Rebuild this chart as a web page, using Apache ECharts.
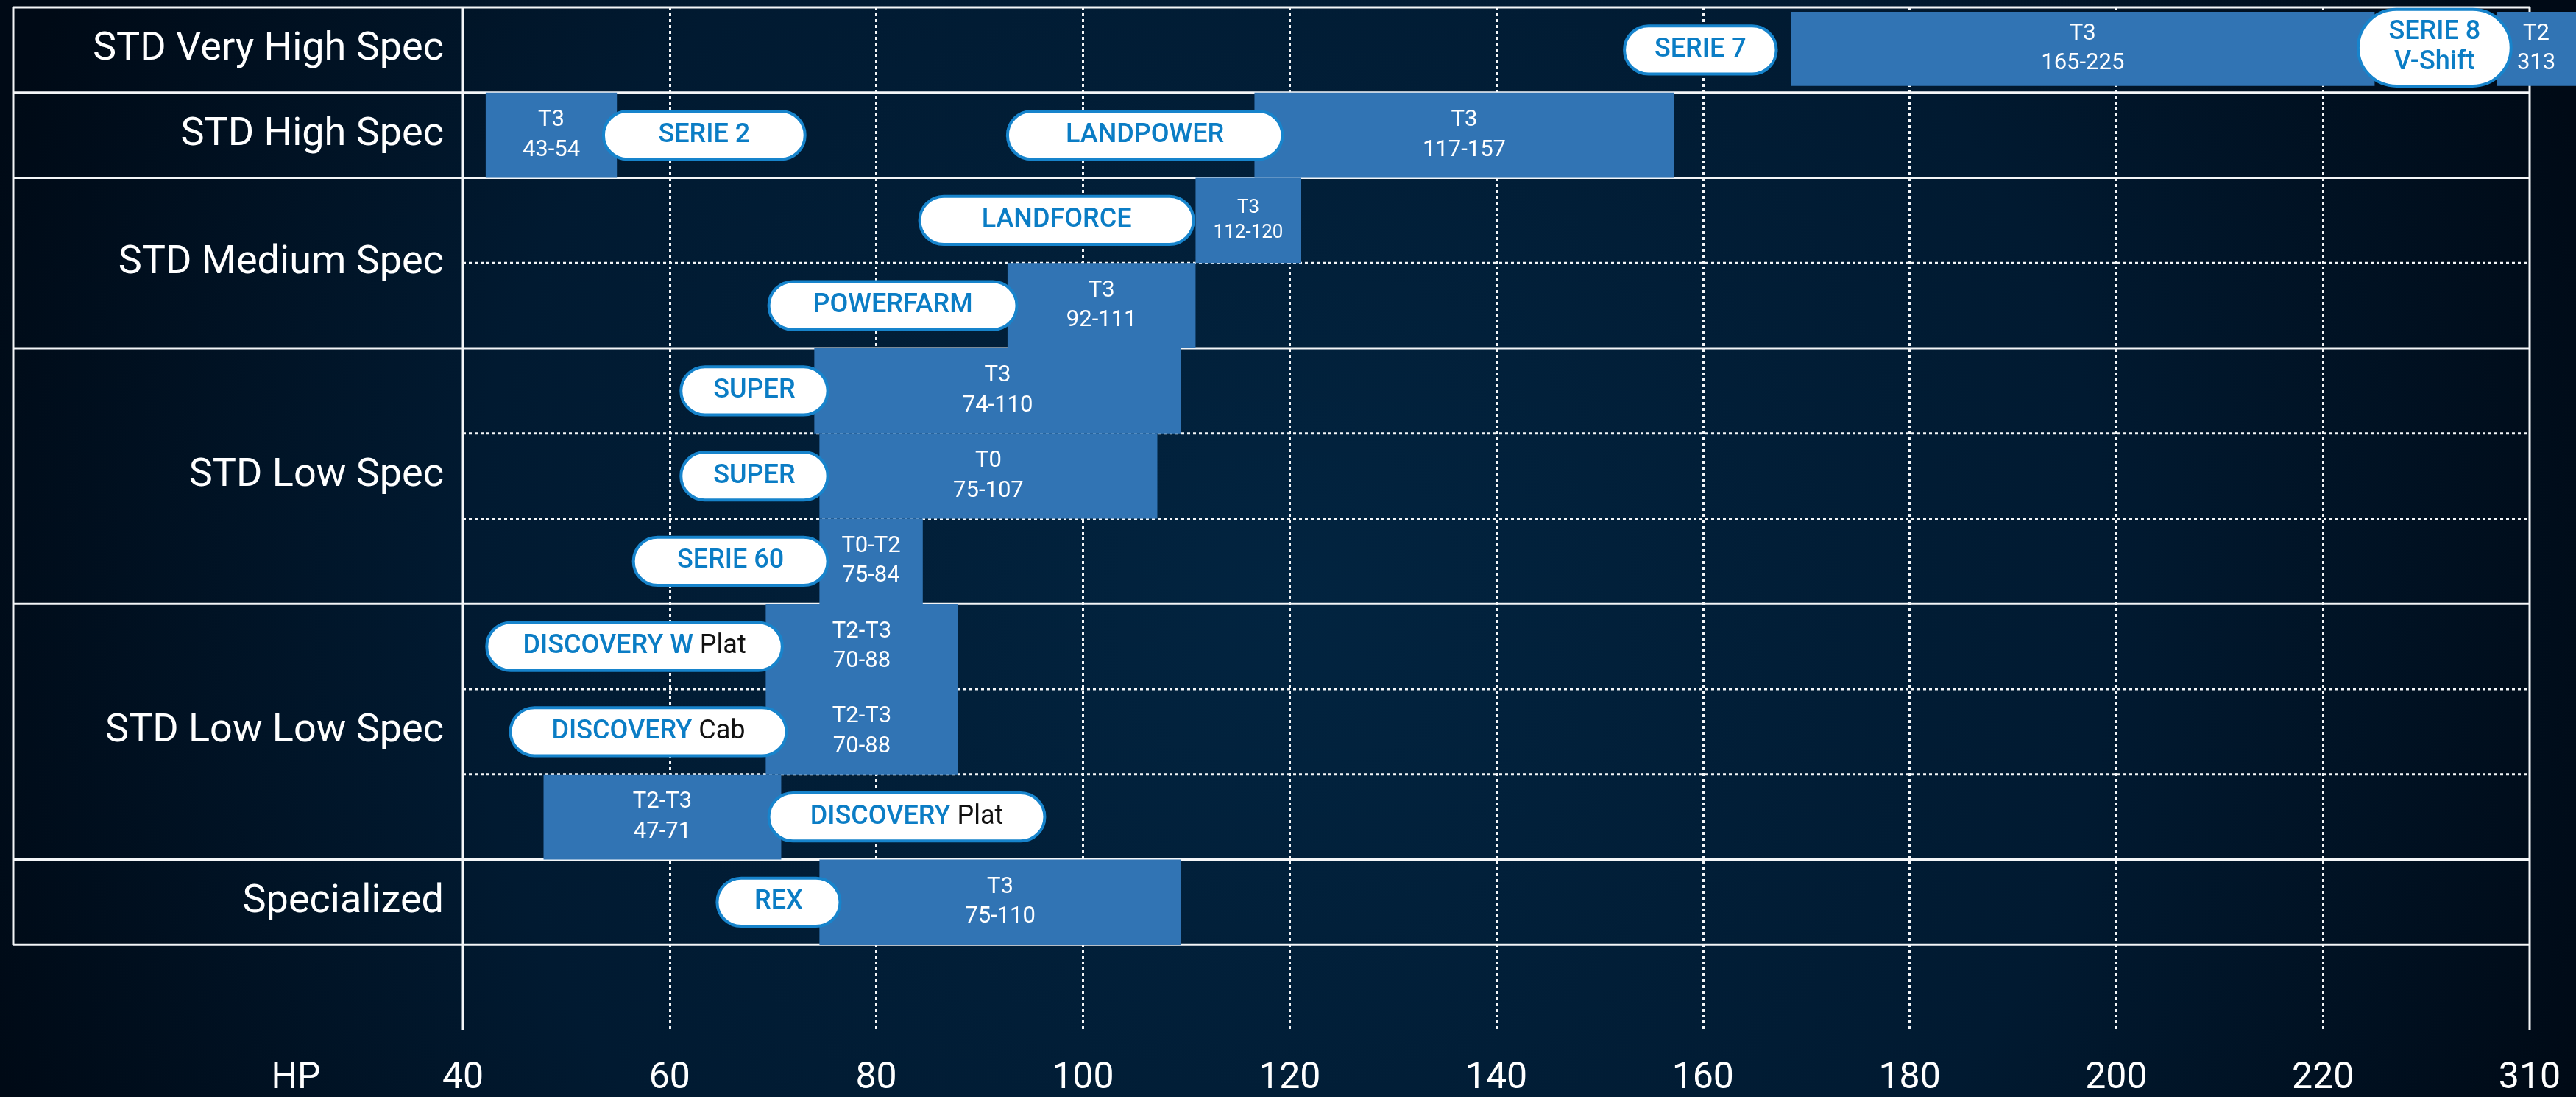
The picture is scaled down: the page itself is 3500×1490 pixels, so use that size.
<!DOCTYPE html>
<html>
<head>
<meta charset="utf-8">
<script src="https://cdn.jsdelivr.net/npm/echarts@6/dist/echarts.min.js"></script>
<style>
html,body{margin:0;padding:0;background:#000c18;}
#chart{width:3500px;height:1490px;}
</style>
</head>
<body>
<div id="chart"></div>
<script>
// ---------- DATA ----------
const groupNames = ['STD Very High Spec', 'STD High Spec', 'STD Medium Spec', 'STD Low Spec', 'STD Low Low Spec', 'Specialized'];
const groupSubRows = [1, 1, 2, 3, 3, 1];
const tickLabels = ['40', '60', '80', '100', '120', '140', '160', '180', '200', '220', '310'];
const axisUnit = 'HP';

const barRow   = [0, 0, 1, 1, 2, 3, 4, 5, 6, 7, 8, 9, 10];
const barFrom  = [168.5, 236.8, 42.2, 116.6, 110.9, 92.7, 74.0, 74.5, 74.5, 69.3, 69.3, 47.8, 74.5];
const barTo    = [225.0, 245.0, 54.9, 157.2, 121.1, 110.9, 109.5, 107.2, 84.5, 87.9, 87.9, 70.8, 109.5];
const barTier  = ['T3', 'T2', 'T3', 'T3', 'T3', 'T3', 'T3', 'T0', 'T0-T2', 'T2-T3', 'T2-T3', 'T2-T3', 'T3'];
const barRange = ['165-225', '313', '43-54', '117-157', '112-120', '92-111', '74-110', '75-107', '75-84', '70-88', '70-88', '47-71', '75-110'];

const pillRow    = [0, 0, 1, 1, 2, 3, 4, 5, 6, 7, 8, 9, 10];
const pillFrom   = [152.4, 223.4, 53.6, 92.7, 84.2, 69.6, 61.1, 61.1, 56.5, 42.3, 44.6, 69.6, 64.6];
const pillTo     = [167.1, 238.2, 73.1, 119.3, 110.7, 93.6, 75.3, 75.3, 75.3, 70.9, 71.3, 96.3, 76.5];
const pillBrand  = ['SERIE 7', 'SERIE 8\nV-Shift', 'SERIE 2', 'LANDPOWER', 'LANDFORCE', 'POWERFARM', 'SUPER', 'SUPER', 'SERIE 60', 'DISCOVERY W', 'DISCOVERY', 'DISCOVERY', 'REX'];
const pillSuffix = ['', '', '', '', '', '', '', '', '', 'Plat', 'Cab', 'Plat', ''];

// ---------- STYLE ----------
const FONT = 'Roboto, "Noto Sans", sans-serif';
const LINE = '#f4f6f8';
const BAR = '#3174b4';
const PILL_STROKE = '#1784cc';
const PILL_TEXT = '#0b7dc5';
const TABLE_LEFT = 18;
const TOP_ROW_INSET = [6, 9];

const subRowCount = groupSubRows.reduce((a, b) => a + b, 0);
const groupBounds = [0];
groupSubRows.forEach(n => groupBounds.push(groupBounds[groupBounds.length - 1] + n));

const measureCtx = document.createElement('canvas').getContext('2d');
function textWidth(t, size) {
  measureCtx.font = size + 'px Roboto';
  return Math.max.apply(null, t.split('\n').map(s => measureCtx.measureText(s).width));
}

const chart = echarts.init(document.getElementById('chart'), null, {renderer: 'canvas'});

function renderFrame(params, api) {
  const top = api.coord([40, 0]);
  const rowH = api.coord([40, 1])[1] - top[1];
  const xL = top[0];
  const xR = api.coord([240, 0])[0];
  const yAt = r => top[1] + r * rowH;
  const children = [];
  for (let b = 0; b <= subRowCount; b++) {
    const solid = groupBounds.indexOf(b) >= 0;
    children.push({
      type: 'line',
      shape: {x1: solid ? TABLE_LEFT : xL, y1: yAt(b), x2: xR, y2: yAt(b)},
      style: {stroke: LINE, lineWidth: 3, lineDash: solid ? null : [4, 4]}
    });
  }
  children.push({type: 'line', shape: {x1: TABLE_LEFT, y1: yAt(0), x2: TABLE_LEFT, y2: yAt(subRowCount)}, style: {stroke: LINE, lineWidth: 3}});
  children.push({type: 'line', shape: {x1: xL, y1: yAt(0), x2: xL, y2: yAt(subRowCount + 1)}, style: {stroke: LINE, lineWidth: 3}});
  children.push({type: 'line', shape: {x1: xR, y1: yAt(0), x2: xR, y2: yAt(subRowCount + 1)}, style: {stroke: LINE, lineWidth: 3}});
  groupNames.forEach((name, g) => {
    children.push({
      type: 'text',
      style: {
        text: name, x: xL - 26, y: (yAt(groupBounds[g]) + yAt(groupBounds[g + 1])) / 2,
        align: 'right', verticalAlign: 'middle', fill: '#ffffff', fontSize: 54, fontFamily: FONT
      }
    });
  });
  children.push({
    type: 'text',
    style: {
      text: axisUnit, x: xL - 227, y: yAt(subRowCount + 1) + 66,
      align: 'center', verticalAlign: 'middle', fill: '#ffffff', fontSize: 50, fontFamily: FONT
    }
  });
  return {type: 'group', children: children};
}

function renderBar(params, api) {
  const i = api.value(3);
  const row = api.value(2);
  const p0 = api.coord([api.value(0), row]);
  const p1 = api.coord([api.value(1), row + 1]);
  const w = p1[0] - p0[0];
  const yTop = p0[1] + (row === 0 ? TOP_ROW_INSET[0] : 0);
  const yBot = p1[1] - (row === 0 ? TOP_ROW_INSET[1] : 0);
  const label = barTier[i] + '\n' + barRange[i];
  let size = 31;
  const visRight = Math.min(p1[0], api.getWidth());
  const visW = visRight - p0[0];
  if (textWidth(label, size) > 0.72 * visW) size = 26;
  return {
    type: 'group',
    children: [
      {type: 'rect', shape: {x: p0[0], y: yTop, width: w, height: yBot - yTop}, style: {fill: BAR}},
      {type: 'text', style: {
        text: label, x: (p0[0] + visRight) / 2, y: (yTop + yBot) / 2,
        align: 'center', verticalAlign: 'middle', fill: '#ffffff',
        fontSize: size, lineHeight: size * 1.3, fontFamily: FONT
      }}
    ]
  };
}

function renderPill(params, api) {
  const i = api.value(3);
  const row = api.value(2);
  const x0 = api.coord([api.value(0), row])[0];
  const x1 = api.coord([api.value(1), row])[0];
  const yT = api.coord([40, row])[1];
  const yB = api.coord([40, row + 1])[1];
  const rowH = yB - yT;
  const twoLine = pillBrand[i].indexOf('\n') >= 0;
  const h = twoLine ? rowH * 0.9 : rowH * 0.565;
  const yc = (yT + yB) / 2 - (twoLine ? 3 : 0);
  const w = x1 - x0;
  const txt = '{b|' + pillBrand[i] + '}' + (pillSuffix[i] ? '{k| ' + pillSuffix[i] + '}' : '');
  return {
    type: 'group',
    children: [
      {type: 'rect', shape: {x: x0, y: yc - h / 2, width: w, height: h, r: Math.min(h / 2, w / 2)},
       style: {fill: '#ffffff', stroke: PILL_STROKE, lineWidth: 4}},
      {type: 'text', style: {
        text: txt, x: (x0 + x1) / 2, y: yc, align: 'center', verticalAlign: 'middle',
        rich: {
          b: {fill: PILL_TEXT, fontSize: 36, fontWeight: 500, fontFamily: FONT, lineHeight: 41, align: 'center'},
          k: {fill: '#111111', fontSize: 36, fontWeight: 400, fontFamily: FONT, lineHeight: 41}
        }
      }}
    ]
  };
}

const option = {
  backgroundColor: {
    type: 'radial', x: 0.5, y: 0.55, r: 1.25,
    colorStops: [{offset: 0, color: '#022440'}, {offset: 0.6, color: '#011a31'}, {offset: 1, color: '#000a16'}]
  },
  animation: false,
  grid: {left: 629, right: 63, top: 10, bottom: 88, containLabel: false},
  xAxis: {
    type: 'value', min: 40, max: 240, interval: 20,
    axisLine: {show: false}, axisTick: {show: false},
    axisLabel: {
      color: '#ffffff', fontSize: 50, fontFamily: FONT, margin: 41,
      showMinLabel: true, showMaxLabel: true,
      formatter: v => tickLabels[Math.round((v - 40) / 20)]
    },
    splitLine: {show: true, showMinLine: false, showMaxLine: false, lineStyle: {color: LINE, width: 3, type: [4, 4]}}
  },
  yAxis: {
    type: 'value', min: 0, max: subRowCount + 1, inverse: true, show: false
  },
  series: [
    {type: 'custom', name: 'frame', renderItem: renderFrame, data: [[40, 0, 0, 0]], encode: {x: 0, y: 1}, z: 1, clip: false, silent: true},
    {type: 'custom', name: 'bars', renderItem: renderBar,
     data: barRow.map((r, i) => [barFrom[i], barTo[i], r, i]), encode: {x: [0, 1], y: 2}, z: 2, clip: false},
    {type: 'custom', name: 'pills', renderItem: renderPill,
     data: pillRow.map((r, i) => [pillFrom[i], pillTo[i], r, i]), encode: {x: [0, 1], y: 2}, z: 3, clip: false}
  ]
};
chart.setOption(option);
</script>
</body>
</html>
